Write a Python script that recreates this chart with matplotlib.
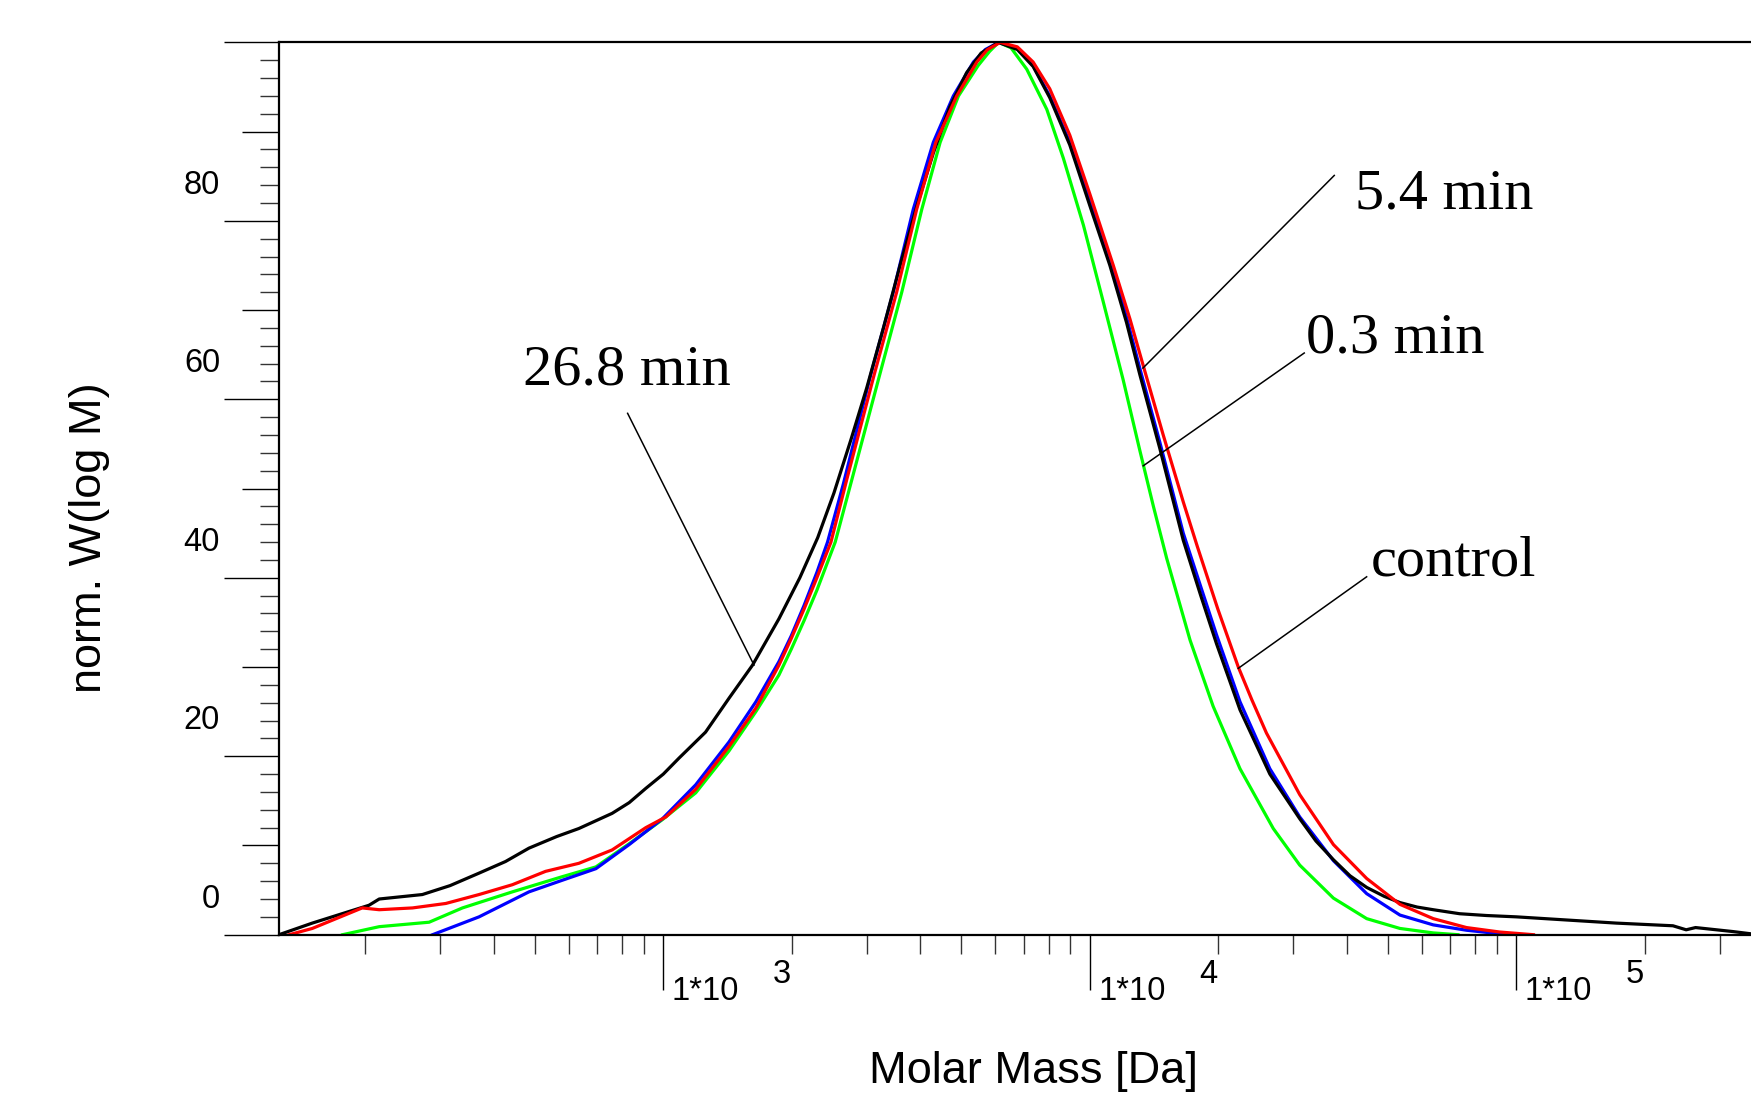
import numpy as np
import matplotlib
matplotlib.use("Agg")
import matplotlib.pyplot as plt
from matplotlib.transforms import ScaledTranslation
from matplotlib.ticker import FixedLocator, NullFormatter

# ---------------- data (log10 of molar mass, normalised W(log M)) ----------------
black_logM = [2.099, 2.177, 2.250, 2.310, 2.334, 2.435, 2.500, 2.568, 2.630, 2.685,
              2.750, 2.802, 2.880, 2.920, 2.959, 3.000, 3.037, 3.099, 3.154, 3.209,
              3.271, 3.320, 3.362, 3.400, 3.440, 3.477, 3.516, 3.555, 3.594, 3.633,
              3.672, 3.711, 3.745, 3.786, 3.830, 3.867, 3.906, 3.953, 4.000, 4.047,
              4.086, 4.117, 4.164, 4.219, 4.260, 4.297, 4.352, 4.422, 4.492, 4.530,
              4.571, 4.610, 4.649, 4.690, 4.727, 4.767, 4.805, 4.867, 4.930, 5.000,
              5.117, 5.234, 5.367, 5.398, 5.420, 5.508, 5.550]
black_W = [0.0, 1.3, 2.4, 3.3, 4.0, 4.5, 5.5, 6.9, 8.2, 9.7,
           11.0, 11.9, 13.6, 14.8, 16.4, 18.0, 19.8, 22.7, 26.5, 30.2,
           35.4, 40.0, 44.5, 49.5, 55.5, 61.3, 68.0, 75.0, 81.6, 87.6,
           92.8, 96.6, 98.8, 100.0, 99.2, 97.3, 93.8, 88.5, 81.7, 75.0,
           68.6, 62.8, 54.5, 44.2, 38.0, 32.6, 25.2, 18.0, 13.0, 10.5,
           8.4, 6.6, 5.3, 4.3, 3.6, 3.1, 2.8, 2.35, 2.15, 2.0,
           1.65, 1.3, 1.0, 0.55, 0.8, 0.35, 0.1]

red_logM = [2.123, 2.177, 2.294, 2.334, 2.412, 2.490, 2.568, 2.646, 2.724, 2.802,
            2.880, 2.959, 3.006, 3.076, 3.154, 3.217, 3.271, 3.300, 3.330, 3.360,
            3.393, 3.430, 3.494, 3.547, 3.594, 3.639, 3.688, 3.735, 3.760, 3.790,
            3.830, 3.867, 3.906, 3.953, 4.000, 4.055, 4.094, 4.125, 4.172, 4.219,
            4.252, 4.300, 4.348, 4.380, 4.414, 4.492, 4.571, 4.649, 4.727, 4.805,
            4.883, 4.961, 5.040]
red_W = [0.0, 0.7, 3.0, 2.8, 3.0, 3.5, 4.5, 5.6, 7.1, 8.0,
         9.5, 12.0, 13.2, 16.3, 21.1, 25.4, 30.2, 33.2, 36.5, 40.0,
         44.0, 51.0, 62.7, 72.0, 81.3, 88.8, 94.0, 97.8, 99.2, 100.0,
         99.5, 97.8, 94.8, 89.6, 83.0, 75.0, 69.0, 63.8, 56.0, 48.5,
         43.5, 36.5, 30.0, 26.3, 22.6, 15.7, 10.1, 6.3, 3.4, 1.8,
         0.8, 0.3, 0.0]

blue_logM = [2.459, 2.568, 2.685, 2.763, 2.842, 2.920, 2.998, 3.076, 3.154, 3.217,
             3.271, 3.300, 3.330, 3.360, 3.385, 3.422, 3.486, 3.539, 3.586, 3.633,
             3.680, 3.727, 3.755, 3.786, 3.830, 3.867, 3.906, 3.953, 4.000, 4.047,
             4.086, 4.117, 4.164, 4.219, 4.260, 4.297, 4.352, 4.422, 4.492, 4.571,
             4.649, 4.727, 4.805, 4.883, 4.961, 4.990]
blue_W = [0.0, 2.0, 4.8, 6.1, 7.4, 10.1, 13.0, 16.8, 21.6, 26.1,
          30.6, 33.5, 36.9, 40.6, 44.0, 50.5, 62.7, 72.0, 81.3, 88.8,
          94.0, 97.8, 99.2, 100.0, 99.3, 97.4, 94.0, 88.8, 82.1, 75.6,
          69.2, 63.5, 55.2, 45.0, 39.0, 33.6, 26.1, 18.6, 13.2, 8.3,
          4.6, 2.2, 1.1, 0.5, 0.1, 0.0]

green_logM = [2.248, 2.334, 2.451, 2.529, 2.646, 2.763, 2.842, 2.920, 2.998, 3.076,
              3.154, 3.217, 3.271, 3.300, 3.330, 3.360, 3.403, 3.442, 3.507, 3.559,
              3.606, 3.649, 3.692, 3.738, 3.765, 3.786, 3.815, 3.852, 3.899, 3.938,
              3.985, 4.031, 4.078, 4.117, 4.149, 4.180, 4.235, 4.289, 4.352, 4.430,
              4.492, 4.571, 4.649, 4.727, 4.805, 4.863]
green_W = [0.0, 0.9, 1.4, 3.0, 4.8, 6.5, 7.6, 10.2, 12.9, 15.9,
           20.6, 25.0, 29.1, 32.0, 35.2, 38.6, 44.0, 51.0, 62.7, 72.0,
           81.3, 88.8, 94.0, 97.4, 99.0, 100.0, 99.4, 97.0, 92.5, 87.0,
           79.5, 71.0, 62.2, 54.3, 48.0, 42.2, 33.0, 25.6, 18.6, 11.9,
           7.8, 4.1, 1.8, 0.7, 0.2, 0.0]

ytick_values = [0, 20, 40, 60, 80, 100]
ytick_labels = ["0", "20", "40", "60", "80", ""]
xtick_exponents = [3, 4, 5]

# annotation: label, label position (logM, W), leader start, leader end
annotations = [
    ("5.4 min", (4.6205, 81.35), (4.573, 85.09), (4.1245, 63.5)),
    ("0.3 min", (4.5077, 65.22), (4.5026, 65.19), (4.1252, 52.55)),
    ("control", (4.6596, 40.25), (4.6489, 40.11), (4.3479, 29.85)),
    ("26.8 min", (2.6702, 61.71), (2.9163, 58.43), (3.2126, 30.22)),
]

SANS = ["Liberation Sans", "DejaVu Sans"]
SERIF = ["Liberation Serif", "DejaVu Serif"]
plt.rcParams["font.family"] = SANS

W_PX, H_PX = 1751, 1095
fig = plt.figure(figsize=(W_PX / 100, H_PX / 100), dpi=100)
fig.patch.set_facecolor("white")

left, right, top, bottom = 279, 1751, 42.4, 934.7
ax = fig.add_axes([left / W_PX, 1 - bottom / H_PX, (right - left) / W_PX, (bottom - top) / H_PX])
ax.set_xscale("log")
ax.set_xlim(10 ** 2.099, 10 ** 5.55)
ax.set_ylim(0, 100)

series = [
    (green_logM, green_W, "#00ff00"),
    (blue_logM, blue_W, "#0000ff"),
    (black_logM, black_W, "#000000"),
    (red_logM, red_W, "#ff0000"),
]
for lm, w, c in series:
    ax.plot(np.power(10.0, lm), w, color=c, lw=2.3, solid_joinstyle="round")

# spines
for s in ["left", "bottom", "top"]:
    ax.spines[s].set_linewidth(1.6)
    ax.spines[s].set_color("black")
ax.spines["right"].set_visible(False)

# y ticks
ax.yaxis.set_major_locator(FixedLocator(ytick_values))
ax.yaxis.set_minor_locator(FixedLocator([v for v in range(2, 100, 2) if v % 10]))
ax.yaxis.set_major_formatter(NullFormatter())
ax.tick_params(axis="y", which="major", direction="out", length=39.6, width=1.0, color="black")
ax.tick_params(axis="y", which="minor", direction="out", length=13.7, width=1.0, color="#333333")
sec = ax.secondary_yaxis("left")
sec.set_yticks([10, 30, 50, 70, 90])
sec.tick_params(axis="y", which="major", direction="out", length=26.6, width=1.0,
                color="black", labelleft=False)
sec.tick_params(axis="y", which="minor", length=0)
sec.spines["left"].set_visible(False)

ylab_tr = ax.get_yaxis_transform() + ScaledTranslation(-0.59, 0.355, fig.dpi_scale_trans)
for v, lab in zip(ytick_values, ytick_labels):
    if lab:
        ax.text(0, v, lab, transform=ylab_tr, ha="right", va="center", fontsize=23.5, family=SANS)

# x ticks
ax.xaxis.set_major_locator(FixedLocator([10.0 ** e for e in xtick_exponents]))
minors = [m * 10.0 ** e for e in range(2, 6) for m in range(2, 10)]
ax.xaxis.set_minor_locator(FixedLocator(minors))
ax.xaxis.set_major_formatter(NullFormatter())
ax.xaxis.set_minor_formatter(NullFormatter())
ax.tick_params(axis="x", which="major", direction="out", length=39.6, width=1.0, color="black")
ax.tick_params(axis="x", which="minor", direction="out", length=13.7, width=1.0, color="#333333")

base_tr = ax.get_xaxis_transform() + ScaledTranslation(0.085, -0.57, fig.dpi_scale_trans)
exp_tr = ax.get_xaxis_transform() + ScaledTranslation(1.09, -0.40, fig.dpi_scale_trans)
for e in xtick_exponents:
    ax.text(10.0 ** e, 0, "1*10", transform=base_tr, ha="left", va="center", fontsize=23.5, family=SANS)
    ax.text(10.0 ** e, 0, str(e), transform=exp_tr, ha="left", va="center", fontsize=23.5, family=SANS)

# axis labels
fig.text(1033 / W_PX, 1 - 1072 / H_PX, "Molar Mass [Da]", ha="center", va="center",
         fontsize=32.5, family=SANS)
fig.text(89 / W_PX, 1 - 538 / H_PX, "norm. W(log M)", ha="center", va="center",
         rotation=90, fontsize=32.5, family=SANS)

# annotations
for lab, (tx, ty), (sx, sy), (ex, ey) in annotations:
    ax.plot([10 ** sx, 10 ** ex], [sy, ey], color="black", lw=1.1, clip_on=False)
    ax.text(10 ** tx, ty, lab, ha="left", va="baseline", fontsize=42, family=SERIF)

fig.savefig("out.png", dpi=100, facecolor="white")
